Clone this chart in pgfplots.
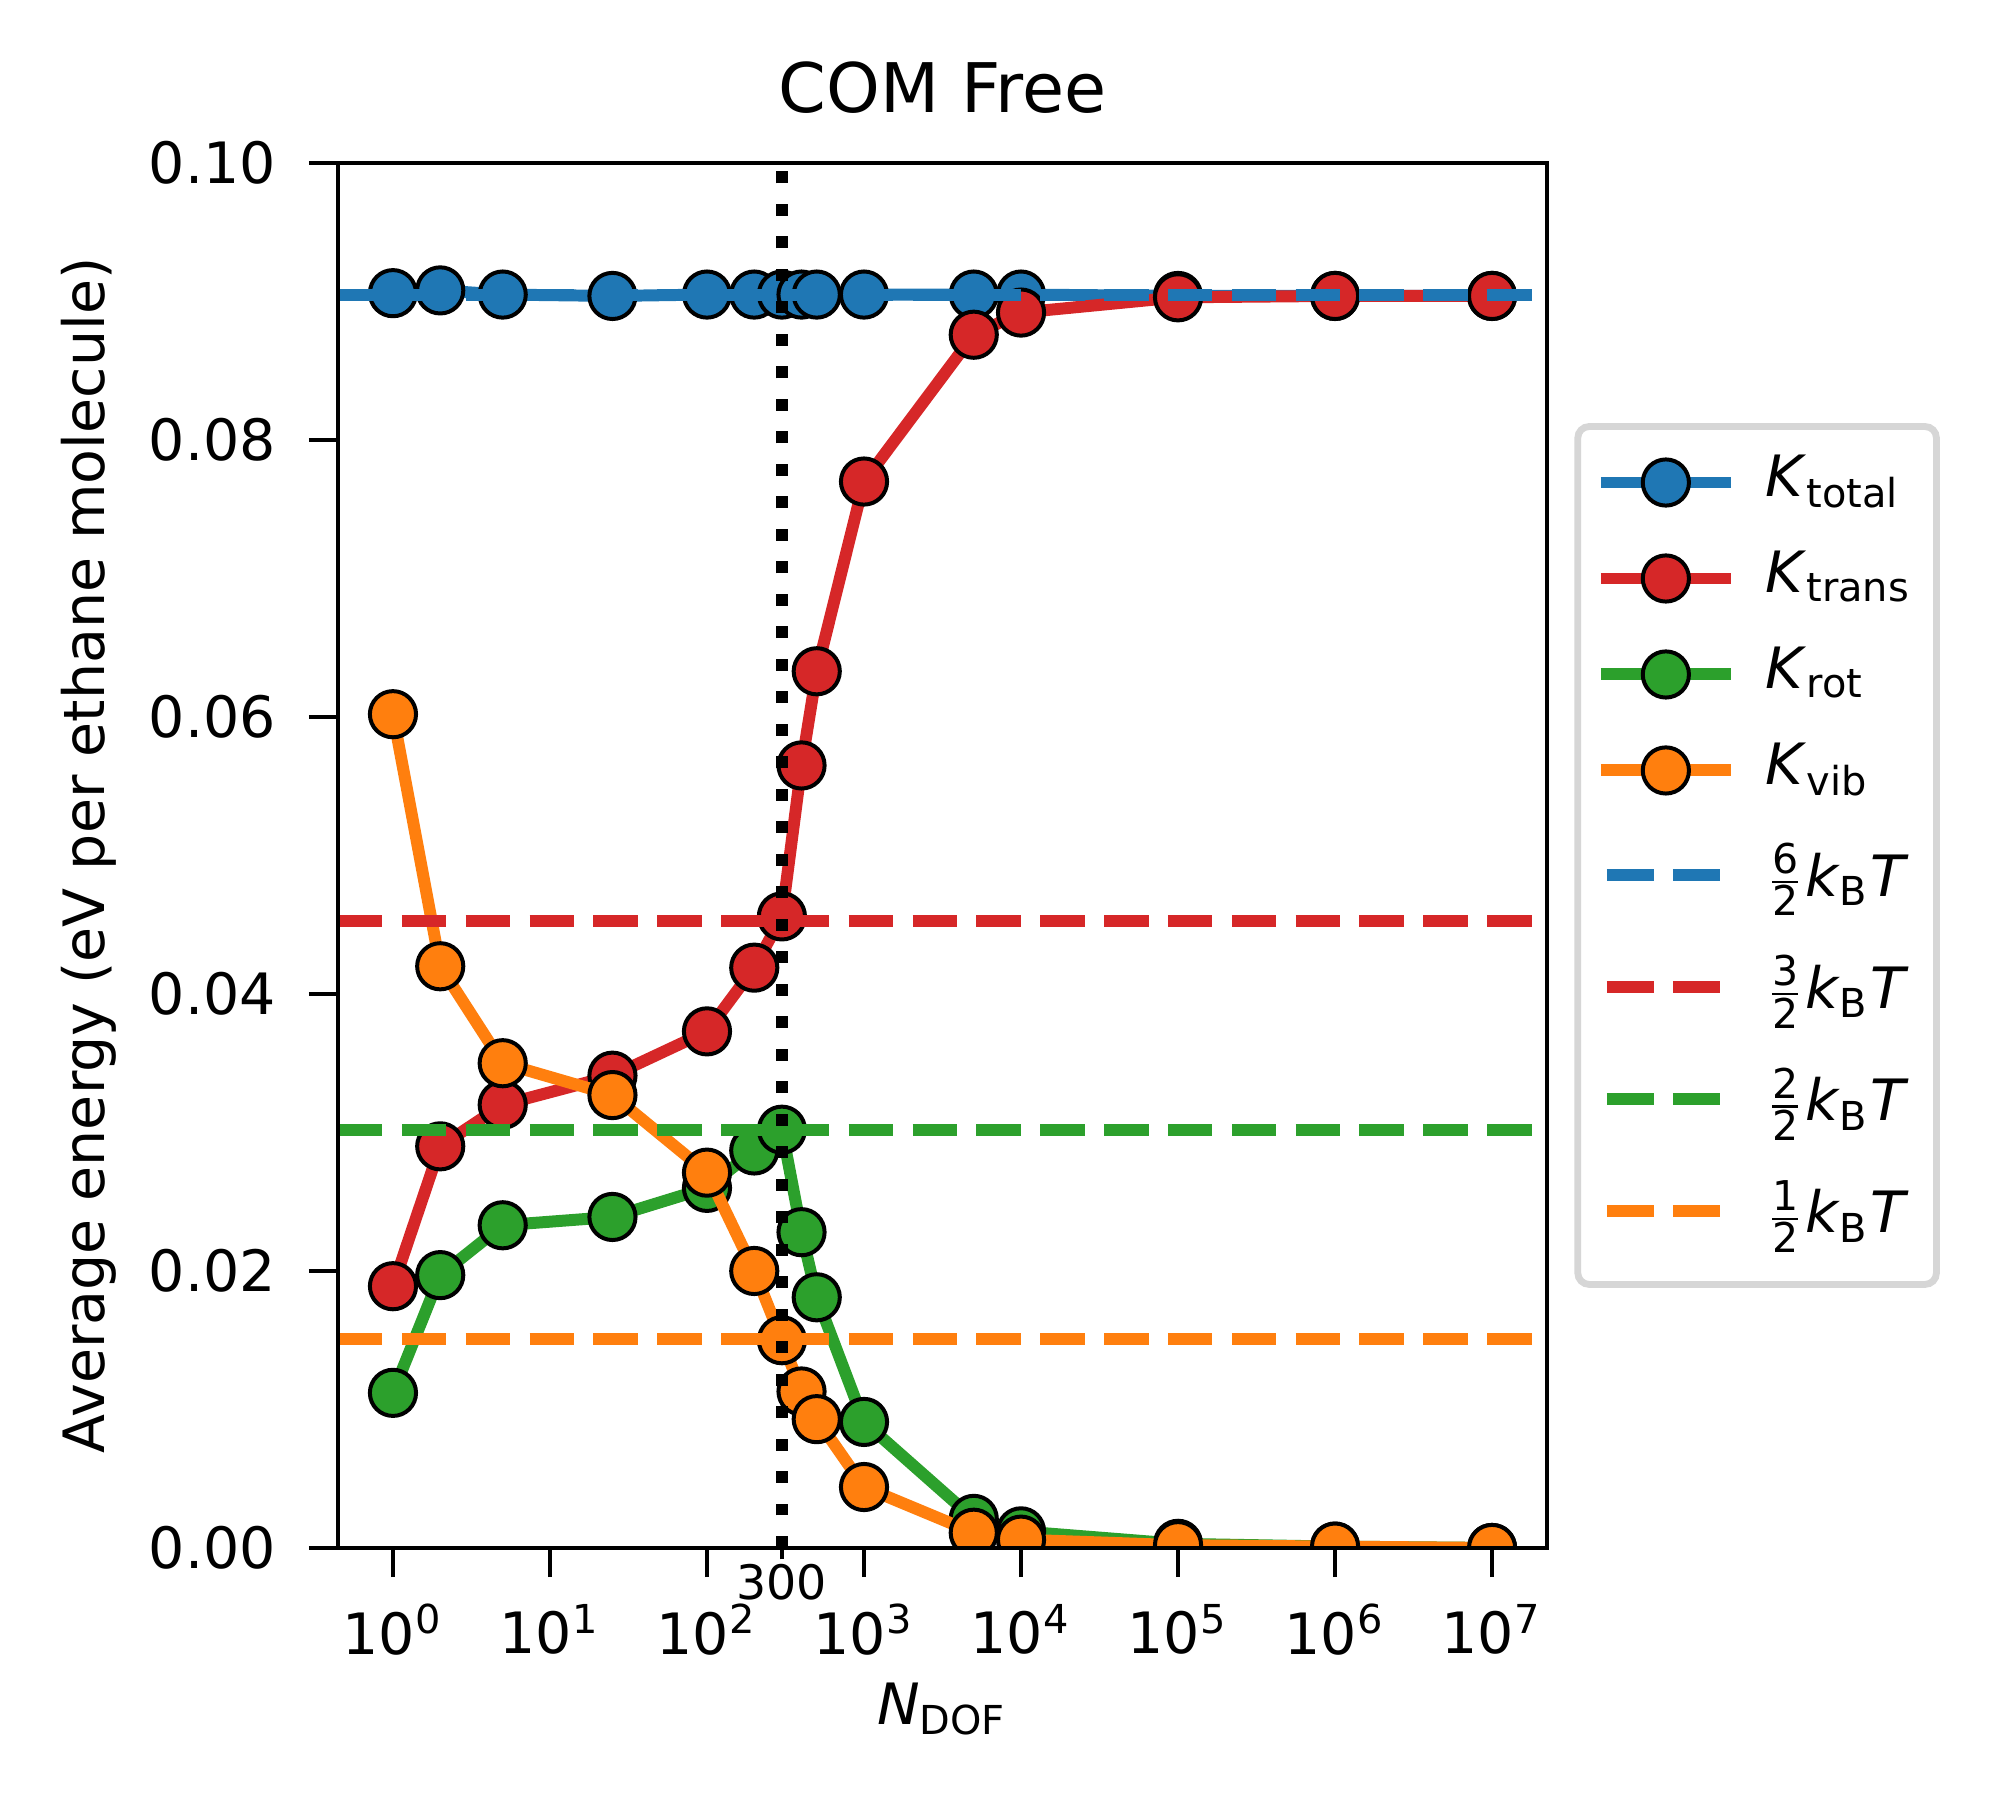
\documentclass[border=0pt]{standalone}
\usepackage{fontspec}
\setmainfont{DejaVu Sans}
\usepackage{pgfplots}
\pgfplotsset{compat=1.18}
\definecolor{tabblue}{HTML}{1F77B4}
\definecolor{taborange}{HTML}{FF7F0E}
\definecolor{tabgreen}{HTML}{2CA02C}
\definecolor{tabred}{HTML}{D62728}
\definecolor{legframe}{gray}{0.84}
\newcommand{\Kst}{\rule[-5.96pt]{0pt}{16.84pt}}
\newcommand{\Fst}{\rule[-6.08pt]{0pt}{19.7pt}}
\newcommand{\frc}[1]{\(\frac{\mbox{\fontsize{7.2}{8}\selectfont #1}}{\mbox{\fontsize{7.2}{8}\selectfont 2}}\)}
\newcommand{\kBT}{\textit{k}\textsubscript{B}\textit{T}}
\pgfplotsset{
  serie/.style={#1, line width=2.1pt, line join=round, mark=*, mark size=4.05pt,
    mark options={fill=#1, draw=black, line width=0.7pt, solid},
    legend image code/.code={\draw[mark repeat=2,mark phase=2] plot coordinates {(0pt,0pt) (11.4pt,0pt) (22.8pt,0pt)};}},
  level/.style={#1, line width=2.1pt, dash pattern=on 7.8pt off 3.4pt,
    legend image code/.code={\draw[solid] (1.05pt,0pt) -- (9.3pt,0pt) (12.63pt,0pt) -- (20.88pt,0pt);}},
}
\begin{document}
\begin{tikzpicture}
\begin{axis}[
  scale only axis, width=212.11pt, height=242.98pt,
  xmode=log, xmin=0.44668, xmax=2.23872e7, ymin=0, ymax=0.1,
  axis on top, clip marker paths=true,
  axis line style={line width=0.8pt, black},
  every tick/.style={black, line width=0.8pt},
  tick align=outside, major tick length=5.1pt,
  xtick pos=left, ytick pos=left, xminorticks=false, yminorticks=false,
  xtick={1,10,100,1000,10000,100000,1000000,10000000},
  xticklabels={10\textsuperscript{0},10\textsuperscript{1},10\textsuperscript{2},10\textsuperscript{3},10\textsuperscript{4},10\textsuperscript{5},10\textsuperscript{6},10\textsuperscript{7}},
  ytick={0,0.02,0.04,0.06,0.08,0.1},
  yticklabels={0.00,0.02,0.04,0.06,0.08,0.10},
  xticklabel style={font=\fontsize{10}{12}\selectfont, inner sep=0pt, yshift=-4.56pt},
  yticklabel style={font=\fontsize{10}{12}\selectfont, inner sep=0pt, xshift=-5.6pt},
  extra x ticks={300}, extra x tick labels={300},
  extra x tick style={major tick length=2pt, xticklabel style={font=\fontsize{8.33}{10}\selectfont, yshift=3.93pt}},
  title={COM Free},
  every axis title/.style={at={(rel axis cs:0.5,1)}, anchor=base, yshift=8.77pt, inner sep=0pt, font=\fontsize{12}{14.4}\selectfont},
  xlabel={\textit{N}\textsubscript{DOF}},
  every axis x label/.style={at={(rel axis cs:0.5,0)}, anchor=base, yshift=-30.9pt, inner sep=0pt, font=\fontsize{10}{12}\selectfont},
  ylabel={Average energy (eV per ethane molecule)},
  every axis y label/.style={at={(rel axis cs:0,0.5)}, xshift=-40.9pt, rotate=90, anchor=base, inner sep=0pt, font=\fontsize{10}{12}\selectfont},
  legend cell align=left,
  legend style={at={(rel axis cs:1,0.5)}, anchor=west, xshift=4.8pt,
    draw=legframe, line width=1.2pt, rounded corners=2pt, fill=white,
    inner xsep=3pt, inner ysep=0pt, row sep=0pt, column sep=5pt,
    nodes={inner sep=0pt, text depth=, text height=, font=\fontsize{10}{12}\selectfont}},
]
\addplot[serie=tabblue, legend image code/.code={\path (0pt,8.77pt); \draw[mark repeat=2,mark phase=2] plot coordinates {(0pt,0pt) (11.4pt,0pt) (22.8pt,0pt)};}] coordinates {
(1,0.0906) (2,0.0908) (5,0.0905) (25,0.0904) (100,0.0905) (200,0.0905) (300,0.0905) (400,0.0905) (500,0.0905) (1000,0.0905) (5000,0.0905) (10000,0.0905) (100000,0.0904) (1000000,0.0904) (10000000,0.0904)};
\addlegendentry{\Kst\textit{K}\textsubscript{total}}
\addplot[serie=tabred] coordinates {
(1,0.0189) (2,0.0290) (5,0.0320) (25,0.0341) (100,0.0373) (200,0.0419) (300,0.0456) (400,0.0565) (500,0.0633) (1000,0.0770) (5000,0.0876) (10000,0.0892) (100000,0.0903) (1000000,0.0904) (10000000,0.0904)};
\addlegendentry{\Kst\textit{K}\textsubscript{trans}\hspace*{1.3pt}}
\addplot[serie=tabgreen] coordinates {
(1,0.0112) (2,0.0197) (5,0.0233) (25,0.0239) (100,0.0260) (200,0.0287) (300,0.0302) (400,0.0228) (500,0.0181) (1000,0.0091) (5000,0.0021) (10000,0.0012) (100000,0.0003) (1000000,0.0001) (10000000,0.0000)};
\addlegendentry{\Kst\textit{K}\textsubscript{rot}}
\addplot[serie=taborange] coordinates {
(1,0.0602) (2,0.0420) (5,0.0350) (25,0.0327) (100,0.0271) (200,0.0200) (300,0.0150) (400,0.0113) (500,0.0093) (1000,0.0044) (5000,0.0011) (10000,0.0006) (100000,0.0002) (1000000,0.0001) (10000000,0.0000)};
\addlegendentry{\Kst\textit{K}\textsubscript{vib}}
\addplot[level=tabblue] coordinates {(0.44668,0.09048) (2.23872e7,0.09048)};
\addlegendentry{\Fst\frc{6}\kBT}
\addplot[level=tabred] coordinates {(0.44668,0.04524) (2.23872e7,0.04524)};
\addlegendentry{\Fst\frc{3}\kBT}
\addplot[level=tabgreen] coordinates {(0.44668,0.03016) (2.23872e7,0.03016)};
\addlegendentry{\Fst\frc{2}\kBT}
\addplot[level=taborange, legend image code/.code={\path (0pt,-11.75pt); \draw[solid] (1.05pt,0pt) -- (9.3pt,0pt) (12.63pt,0pt) -- (20.88pt,0pt);}] coordinates {(0.44668,0.01508) (2.23872e7,0.01508)};
\addlegendentry{\Fst\frc{1}\kBT}
\addplot[black, line width=2.1pt, dash pattern=on 2.1pt off 3.6pt, forget plot] coordinates {(300,0) (300,0.1)};
\end{axis}
\pgfresetboundingbox
\path[use as bounding box] (-59.30pt,-45.79pt) rectangle (290.88pt,271.58pt);
\end{tikzpicture}
\end{document}
